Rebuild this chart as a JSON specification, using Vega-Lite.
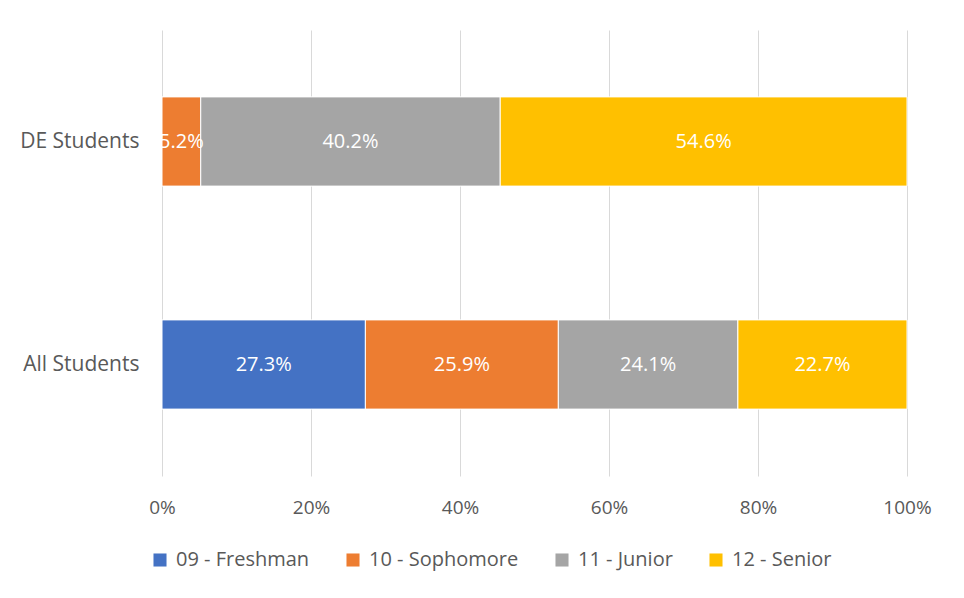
{
  "$schema": "https://vega.github.io/schema/vega-lite/v6.json",
  "width": 745,
  "height": 446,
  "autosize": {"type": "none"},
  "padding": {"left": 162, "top": 30, "right": 57, "bottom": 122},
  "background": "white",
  "config": {
    "view": {"stroke": null},
    "font": "Open Sans",
    "axis": {"labelFont": "Open Sans", "labelColor": "#595959"}
  },
  "data": {
    "values": [
      {"group": "DE Students", "grade": "09 - Freshman", "pct": 0},
      {"group": "DE Students", "grade": "10 - Sophomore", "pct": 5.2},
      {"group": "DE Students", "grade": "11 - Junior", "pct": 40.2},
      {"group": "DE Students", "grade": "12 - Senior", "pct": 54.6},
      {"group": "All Students", "grade": "09 - Freshman", "pct": 27.3},
      {"group": "All Students", "grade": "10 - Sophomore", "pct": 25.9},
      {"group": "All Students", "grade": "11 - Junior", "pct": 24.1},
      {"group": "All Students", "grade": "12 - Senior", "pct": 22.7}
    ]
  },
  "transform": [
    {"stack": "pct", "groupby": ["group"], "sort": [{"field": "grade", "order": "ascending"}], "as": ["p0", "p1"], "offset": "normalize"},
    {"calculate": "(datum.p0 + datum.p1) / 2", "as": "pmid"},
    {"calculate": "format(datum.pct, '.1f') + '%'", "as": "label"}
  ],
  "encoding": {
    "y": {
      "field": "group",
      "type": "nominal",
      "sort": ["DE Students", "All Students"],
      "title": null,
      "scale": {"paddingInner": 0.6, "paddingOuter": 0.3},
      "axis": {"ticks": false, "domain": false, "labelPadding": 23, "labelFontSize": 21}
    }
  },
  "layer": [
    {
      "mark": {"type": "bar", "stroke": "white", "strokeWidth": 1},
      "encoding": {
        "x": {
          "field": "p0",
          "type": "quantitative",
          "scale": {"domain": [0, 1], "nice": false},
          "title": null,
          "axis": {
            "format": ".0%",
            "values": [0, 0.2, 0.4, 0.6, 0.8, 1],
            "grid": true,
            "gridColor": "#d9d9d9",
            "gridWidth": 1,
            "domain": false,
            "ticks": false,
            "labelFlush": false,
            "labelPadding": 22,
            "labelFontSize": 19
          }
        },
        "x2": {"field": "p1"},
        "color": {
          "field": "grade",
          "type": "nominal",
          "scale": {
            "domain": ["09 - Freshman", "10 - Sophomore", "11 - Junior", "12 - Senior"],
            "range": ["#4472C4", "#ED7D31", "#A5A5A5", "#FFC000"]
          },
          "legend": {
            "title": null,
            "orient": "none",
            "direction": "horizontal",
            "legendX": -12,
            "legendY": 520,
            "symbolType": "square",
            "symbolSize": 170,
            "symbolStrokeWidth": 0,
            "labelFontSize": 20,
            "labelColor": "#595959",
            "labelFont": "Open Sans",
            "columnPadding": 33,
            "labelOffset": 6
          }
        }
      }
    },
    {
      "transform": [{"filter": "datum.pct > 0"}],
      "mark": {"type": "text", "color": "white", "fontSize": 20, "baseline": "middle", "align": "center"},
      "encoding": {
        "x": {"field": "pmid", "type": "quantitative"},
        "text": {"field": "label", "type": "nominal"}
      }
    }
  ]
}
